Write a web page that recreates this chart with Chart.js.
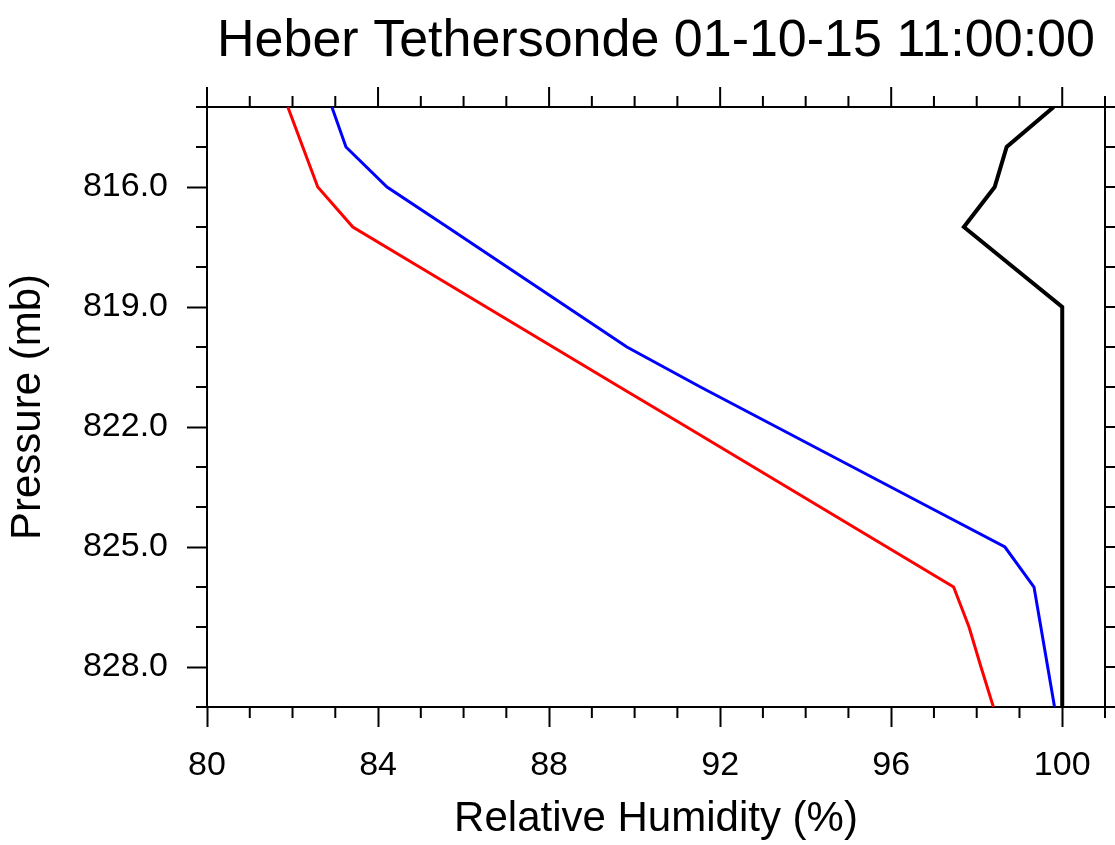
<!DOCTYPE html>
<html>
<head>
<meta charset="utf-8">
<script src="https://cdn.jsdelivr.net/npm/chart.js@4"></script>
<style>
  html, body { margin: 0; padding: 0; background: #fff; }
</style>
</head>
<body>
<canvas id="main-chart" width="1115" height="845"></canvas>
<script>
// pressure levels (mb) and relative humidity (%)
const pressureLevels = [814, 815, 816, 817, 818, 819, 820, 821, 822, 823, 824, 825, 826, 827, 828, 829];
const rhRed   = [81.89, 82.24, 82.59, 83.41, 84.97, 86.53, 88.09, 89.65, 91.22, 92.78, 94.34, 95.90, 97.46, 97.82, 98.10, 98.39];
const rhBlue  = [82.92, 83.25, 84.21, 85.62, 87.02, 88.42, 89.82, 91.54, 93.32, 95.10, 96.88, 98.66, 99.34, 99.50, 99.66, 99.82];
const rhBlack = [99.80, 98.70, 98.42, 97.70, 98.85, 100, 100, 100, 100, 100, 100, 100, 100, 100, 100, 100];

// tick marks
const xMajorTicks = [80, 84, 88, 92, 96, 100];
const xMinorTicks = [81, 82, 83, 85, 86, 87, 89, 90, 91, 93, 94, 95, 97, 98, 99, 101];
const yMajorTicks = [816, 819, 822, 825, 828];
const yMinorTicks = [814, 815, 817, 818, 820, 821, 823, 824, 826, 827, 829];

function toPoints(xs) {
  return pressureLevels.map((p, i) => ({ x: xs[i], y: p }));
}

Chart.defaults.font.family = "'Liberation Sans', Arial, sans-serif";
Chart.defaults.color = '#000';

// outward ticks on all four sides (minor everywhere, major on top/right)
const frameTicks = {
  id: 'frameTicks',
  afterDraw(chart) {
    const ctx = chart.ctx;
    const xs = chart.scales.x, ys = chart.scales.y;
    const a = chart.chartArea;
    ctx.save();
    ctx.strokeStyle = '#000';
    ctx.lineWidth = 2;
    ctx.beginPath();
    xMinorTicks.forEach(v => {
      const px = xs.getPixelForValue(v);
      ctx.moveTo(px, a.bottom); ctx.lineTo(px, a.bottom + 11);
      ctx.moveTo(px, a.top); ctx.lineTo(px, a.top - 11);
    });
    xMajorTicks.forEach(v => {
      const px = xs.getPixelForValue(v);
      ctx.moveTo(px, a.top); ctx.lineTo(px, a.top - 20);
    });
    yMinorTicks.forEach(v => {
      const py = ys.getPixelForValue(v);
      ctx.moveTo(a.left, py); ctx.lineTo(a.left - 11, py);
      ctx.moveTo(a.right, py); ctx.lineTo(a.right + 11, py);
    });
    yMajorTicks.forEach(v => {
      const py = ys.getPixelForValue(v);
      ctx.moveTo(a.right, py); ctx.lineTo(a.right + 20, py);
    });
    ctx.stroke();
    ctx.restore();
  }
};

var ctx = document.getElementById('main-chart').getContext('2d');
new Chart(ctx, {
  type: 'scatter',
  data: {
    datasets: [
      {
        label: 'black',
        data: toPoints(rhBlack),
        showLine: true,
        borderColor: '#000000',
        borderWidth: 4,
        pointRadius: 0
      },
      {
        label: 'blue',
        data: toPoints(rhBlue),
        showLine: true,
        borderColor: '#0000ff',
        borderWidth: 3,
        pointRadius: 0
      },
      {
        label: 'red',
        data: toPoints(rhRed),
        showLine: true,
        borderColor: '#ff0000',
        borderWidth: 3,
        pointRadius: 0
      }
    ]
  },
  options: {
    responsive: false,
    animation: false,
    layout: { padding: 0 },
    plugins: {
      legend: { display: false },
      tooltip: { enabled: false },
      title: { display: false }
    },
    scales: {
      x: {
        type: 'linear',
        position: 'bottom',
        min: 80,
        max: 101,
        afterBuildTicks: s => { s.ticks = xMajorTicks.map(v => ({ value: v })); },
        afterFit: s => { s.height = 138; },
        grid: { drawOnChartArea: false, tickLength: 20, tickWidth: 2, tickColor: '#000' },
        border: { color: '#000', width: 2 },
        ticks: { padding: 18, color: '#000', font: { size: 34 }, maxRotation: 0, autoSkip: false },
        title: {
          display: true,
          text: 'Relative Humidity (%)',
          color: '#000',
          font: { size: 42 },
          padding: { top: 0, bottom: 0 }
        }
      },
      y: {
        type: 'linear',
        position: 'left',
        reverse: true,
        min: 814,
        max: 829,
        afterBuildTicks: s => { s.ticks = yMajorTicks.map(v => ({ value: v })); },
        afterFit: s => { s.width = 207; },
        grid: { drawOnChartArea: false, tickLength: 20, tickWidth: 2, tickColor: '#000' },
        border: { color: '#000', width: 2 },
        ticks: {
          padding: 19,
          color: '#000',
          font: { size: 34 },
          autoSkip: false,
          callback: v => Number(v).toFixed(1)
        },
        title: {
          display: true,
          text: 'Pressure (mb)',
          color: '#000',
          font: { size: 42 },
          padding: { top: 3, bottom: 0 }
        }
      },
      x2: {
        type: 'linear',
        position: 'top',
        min: 80,
        max: 101,
        afterFit: s => { s.height = 107; },
        grid: { display: false, drawTicks: false },
        border: { display: true, color: '#000', width: 2 },
        ticks: { display: false },
        // chart title, centred over the plot box
        title: {
          display: true,
          text: 'Heber Tethersonde 01-10-15 11:00:00',
          color: '#000',
          font: { size: 52 },
          padding: { top: 10, bottom: 0 }
        }
      },
      y2: {
        type: 'linear',
        position: 'right',
        reverse: true,
        min: 814,
        max: 829,
        afterFit: s => { s.width = 10; },
        grid: { display: false, drawTicks: false },
        border: { display: true, color: '#000', width: 2 },
        ticks: { display: false }
      }
    }
  },
  plugins: [frameTicks]
});
</script>
</body>
</html>
